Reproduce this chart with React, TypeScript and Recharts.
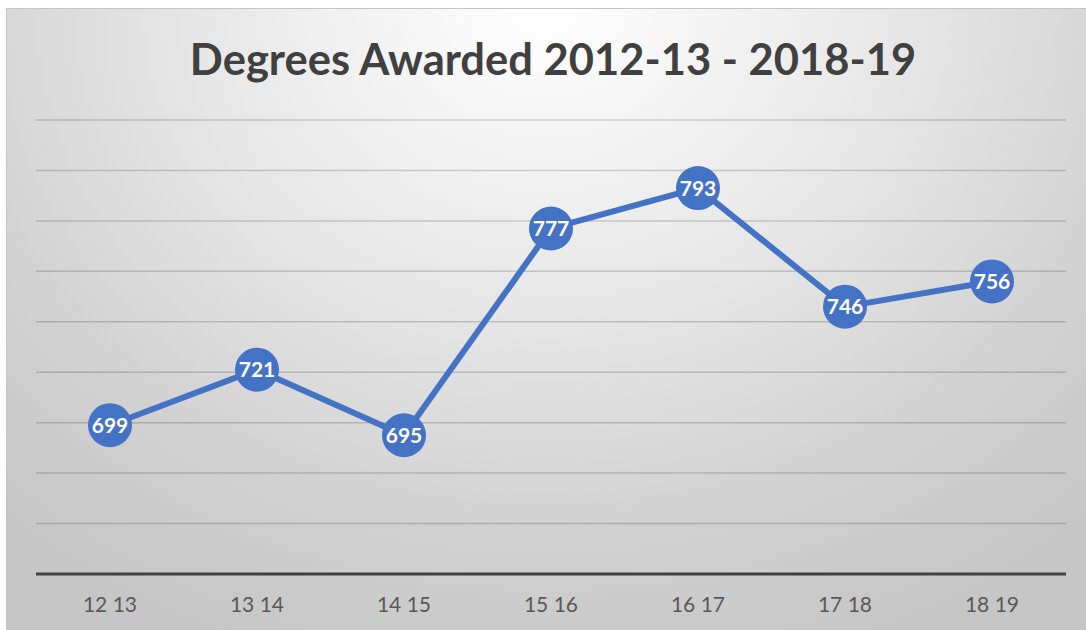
import { CartesianGrid, LabelList, Line, LineChart, XAxis, YAxis } from "recharts";

const years = ["12 13", "13 14", "14 15", "15 16", "16 17", "17 18", "18 19"];
const degrees = [699, 721, 695, 777, 793, 746, 756];
const yTicks = [640, 660, 680, 700, 720, 740, 760, 780, 800, 820];

const data = years.map((year, i) => ({ year, degrees: degrees[i] }));

const BLUE = "#4472c4";

export default function App() {
  return (
    <div
      style={{
        position: "fixed",
        left: 0,
        top: 0,
        width: 1086,
        height: 630,
        background: "#ffffff",
        overflow: "hidden",
      }}
    >
      <div
        style={{
          position: "absolute",
          left: 6,
          top: 8,
          width: 1080,
          height: 622,
          borderTop: "1px solid #c4c4c4",
          borderLeft: "1px solid #c4c4c4",
          boxSizing: "border-box",
          background:
            "radial-gradient(ellipse 75% 110% at 50% 0%, #ffffff 0%, #e6e6e6 45%, #d2d2d2 75%, #c6c6c6 100%)",
        }}
      />
      <div
        style={{
          position: "absolute",
          left: 0,
          width: 1106,
          top: 32,
          lineHeight: "52px",
          textAlign: "center",
          fontFamily: "Lato, sans-serif",
          fontWeight: 700,
          fontSize: 43.5,
          color: "#404040",
        }}
      >
        Degrees Awarded 2012-13 - 2018-19
      </div>
      <div style={{ position: "absolute", left: 0, top: 0 }}>
        <LineChart
          width={1086}
          height={630}
          data={data}
          margin={{ top: 120, right: 20, bottom: 26, left: 36 }}
        >
          <CartesianGrid
            vertical={false}
            stroke="#000000"
            strokeOpacity={0.17}
            strokeWidth={1.5}
          />
          <XAxis
            dataKey="year"
            height={30}
            padding={{ left: 74, right: 74 }}
            tickLine={false}
            tickMargin={17}
            axisLine={{ stroke: "#404040", strokeWidth: 3 }}
            tick={{ fill: "#595959", fontSize: 21, fontFamily: "Lato, sans-serif" }}
          />
          <YAxis hide domain={[640, 820]} ticks={yTicks} />
          <Line
            dataKey="degrees"
            stroke={BLUE}
            strokeWidth={6}
            dot={{ r: 22, fill: BLUE, stroke: BLUE, strokeWidth: 0 }}
            isAnimationActive={false}
          >
            <LabelList
              dataKey="degrees"
              position="center"
              fill="#ffffff"
              style={{ fontFamily: "Lato, sans-serif", fontWeight: 700, fontSize: 21 }}
            />
          </Line>
        </LineChart>
      </div>
    </div>
  );
}
